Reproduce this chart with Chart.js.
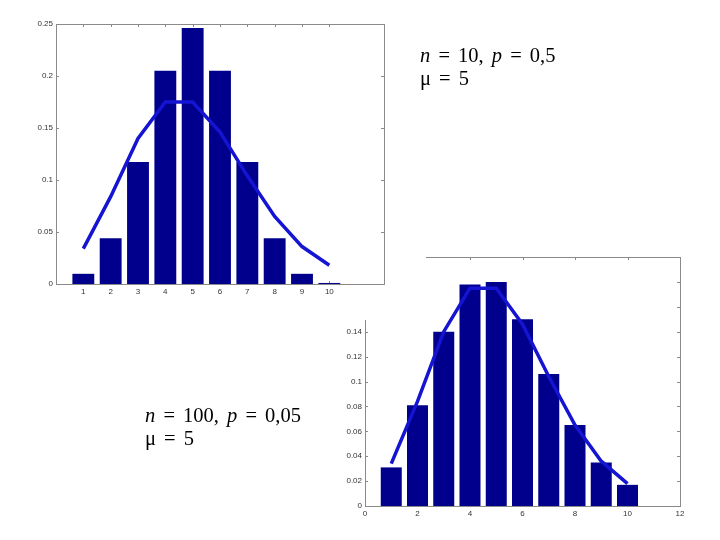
<!DOCTYPE html>
<html>
<head>
<meta charset="utf-8">
<script src="https://cdn.jsdelivr.net/npm/chart.js@4/dist/chart.umd.min.js"></script>
<style>
    body { margin: 0; width: 720px; height: 540px; background: #fff; position: relative; overflow: hidden; }
    .box { position: absolute; }
    #topBox { left: 0; top: 0; width: 426px; height: 320px; background: #fff; z-index: 2; }
    #bottomBox { left: 300px; top: 240px; width: 420px; height: 300px; z-index: 1; }
    .label { position: absolute; font-family: "Liberation Serif", "Times New Roman", serif; font-size: 20.5px; line-height: 23px; color: #000; z-index: 3; white-space: nowrap; word-spacing: 3px; }
</style>
</head>
<body>
<div class="box" id="bottomBox"><canvas id="bottomChart" width="420" height="300"></canvas></div>
<div class="box" id="topBox"><canvas id="topChart" width="426" height="320"></canvas></div>
<div class="label" style="left: 420px; top: 44px;"><i>n</i> = 10, <i>p</i> = 0,5<br>μ = 5</div>
<div class="label" style="left: 145px; top: 404px;"><i>n</i> = 100, <i>p</i> = 0,05<br>μ = 5</div>
<script>
// valeurs
const outcomes = [1, 2, 3, 4, 5, 6, 7, 8, 9, 10];
const binomN10 = [0.0098, 0.0439, 0.1172, 0.2051, 0.2461, 0.2051, 0.1172, 0.0439, 0.0098, 0.001];
const binomN100 = [0.031, 0.081, 0.140, 0.178, 0.180, 0.150, 0.106, 0.065, 0.035, 0.017];
const poissonLine = [0.034, 0.084, 0.140, 0.175, 0.175, 0.146, 0.104, 0.065, 0.036, 0.018];
const topXTicks = [1, 2, 3, 4, 5, 6, 7, 8, 9, 10];

const barColor = 'rgb(0, 0, 140)';
const lineColor = 'rgb(20, 20, 210)';
const tickFont = { family: 'Liberation Sans, Arial, sans-serif', size: 8 };

// cadre + petites graduations vers l'intérieur, comme matlab
const matlabBox = {
    id: 'matlabBox',
    beforeDatasetsDraw(chart) {
        const { ctx, chartArea: a, scales: { x, y } } = chart;
        ctx.save();
        ctx.strokeStyle = '#8a8a8a';
        ctx.lineWidth = 1;
        ctx.strokeRect(Math.round(a.left) + 0.5, Math.round(a.top) + 0.5,
                Math.round(a.right - a.left), Math.round(a.bottom - a.top));
        ctx.beginPath();
        x.ticks.forEach(t => {
            const px = Math.round(x.getPixelForValue(t.value)) + 0.5;
            ctx.moveTo(px, a.top); ctx.lineTo(px, a.top + 3);
            ctx.moveTo(px, a.bottom); ctx.lineTo(px, a.bottom - 3);
        });
        y.ticks.forEach(t => {
            const py = Math.round(y.getPixelForValue(t.value)) + 0.5;
            ctx.moveTo(a.left, py); ctx.lineTo(a.left + 3, py);
            ctx.moveTo(a.right, py); ctx.lineTo(a.right - 3, py);
        });
        ctx.stroke();
        ctx.restore();
    }
};

function points(values) {
    return outcomes.map((k, i) => ({ x: k, y: values[i] }));
}

function makeChart(canvasId, barValues, yMax, yStep, yWidth, padding, xTickValues) {
    const ctx = document.getElementById(canvasId);
    return new Chart(ctx, {
        type: 'bar',
        data: {
            datasets: [
                {
                    type: 'line',
                    data: points(poissonLine),
                    borderColor: lineColor,
                    borderWidth: 3.5,
                    pointRadius: 0,
                    tension: 0,
                    order: 0
                },
                {
                    type: 'bar',
                    data: points(barValues),
                    backgroundColor: barColor,
                    borderWidth: 0,
                    categoryPercentage: 1,
                    barPercentage: 0.8,
                    order: 1
                }
            ]
        },
        options: {
            responsive: false,
            animation: false,
            layout: { padding: padding },
            plugins: { legend: { display: false }, tooltip: { enabled: false } },
            scales: {
                x: {
                    type: 'linear',
                    offset: false,
                    min: 0,
                    max: 12,
                    grid: { display: false, drawTicks: false, offset: false },
                    border: { display: false },
                    ticks: { stepSize: 2, padding: 3, font: tickFont, color: '#333', maxRotation: 0 },
                    afterBuildTicks: scale => {
                        if (xTickValues) scale.ticks = xTickValues.map(v => ({ value: v }));
                    },
                    afterFit: scale => { scale.height = 18; }
                },
                y: {
                    min: 0,
                    max: yMax,
                    grid: { display: false, drawTicks: false },
                    border: { display: false },
                    ticks: {
                        stepSize: yStep,
                        padding: 3,
                        font: tickFont,
                        color: '#333',
                        callback: v => String(+v.toFixed(3))
                    },
                    afterFit: scale => { scale.width = yWidth; }
                }
            }
        },
        plugins: [matlabBox]
    });
}

makeChart('topChart', binomN10, 0.25, 0.05, 30, { left: 26, top: 24, right: 42, bottom: 18 }, topXTicks);
makeChart('bottomChart', binomN100, 0.2, 0.02, 34, { left: 31, top: 17, right: 40, bottom: 16 }, null);
</script>
</body>
</html>
